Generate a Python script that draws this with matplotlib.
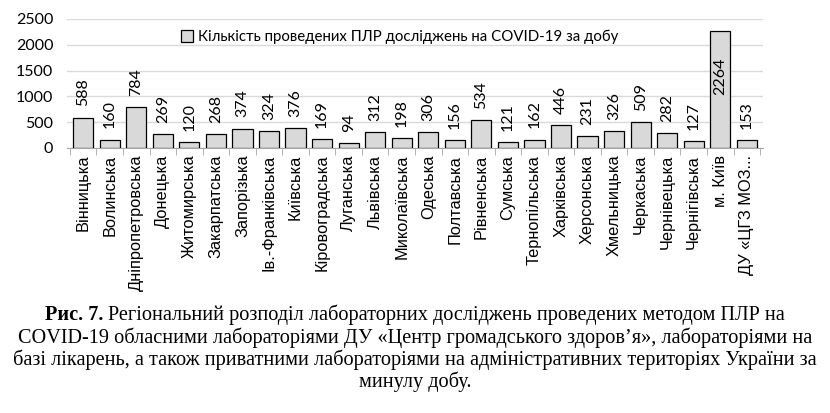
import numpy as np
import matplotlib.pyplot as plt
from matplotlib.patches import Patch

regions = ['Вінницька', 'Волинська', 'Дніпропетровська', 'Донецька', 'Житомирська',
           'Закарпатська', 'Запорізька', 'Ів.-Франківська', 'Київська', 'Кіровоградська',
           'Луганська', 'Львівська', 'Миколаївська', 'Одеська', 'Полтавська', 'Рівненська',
           'Сумська', 'Тернопільська', 'Харківська', 'Херсонська', 'Хмельницька',
           'Черкаська', 'Чернівецька', 'Чернігівська', 'м. Київ', 'ДУ «ЦГЗ МОЗ...']
tests = [588, 160, 784, 269, 120, 268, 374, 324, 376, 169, 94, 312, 198,
         306, 156, 534, 121, 162, 446, 231, 326, 509, 282, 127, 2264, 153]
yticks = [0, 500, 1000, 1500, 2000, 2500]

legend_label = 'Кількість проведених ПЛР досліджень на COVID-19 за добу'
caption_bold = 'Рис. 7.'
caption = ['Регіональний розподіл лабораторних досліджень проведених методом ПЛР на',
           'COVID-19 обласними лабораторіями ДУ «Центр громадського здоров’я», лабораторіями на',
           'базі лікарень, а також приватними лабораторіями на адміністративних територіях України за',
           'минулу добу.']

num_font = ['Lato', 'DejaVu Sans']
cat_font = ['Liberation Sans', 'DejaVu Sans']
cap_font = ['Liberation Serif', 'DejaVu Serif']

fig = plt.figure(figsize=(8.3, 4.13), dpi=100)
ax = fig.add_axes([0.081, 0.642, 0.838, 0.312])

x = np.arange(len(tests))
bars = ax.bar(x, tests, width=0.76, color='#d9d9d9', edgecolor='black', linewidth=0.9, zorder=3)

for xi, v in zip(x, tests):
    if v > 2000:
        ax.annotate(str(v), (xi, v), xytext=(0, -19), textcoords='offset points',
                    rotation=90, ha='center', va='top', fontsize=11.5, family=num_font, zorder=4)
    else:
        ax.annotate(str(v), (xi, v), xytext=(0, 8), textcoords='offset points',
                    rotation=90, ha='center', va='bottom', fontsize=11.5, family=num_font, zorder=4)

ax.set_ylim(0, 2500)
ax.set_xlim(-0.6, len(tests) - 0.4)
ax.set_yticks(yticks)
ax.set_yticklabels([str(t) for t in yticks], family=num_font, fontsize=11.5)
ax.yaxis.grid(True, color='#d9d9d9', linewidth=1, zorder=0)
ax.tick_params(axis='y', length=0, pad=10)

ax.set_xticks(x)
ax.set_xticklabels(regions, rotation=90, family=cat_font, fontsize=11.8)
ax.tick_params(axis='x', length=0, pad=5)
ax.set_xticks(np.arange(-0.5, len(tests), 1), minor=True)
ax.tick_params(axis='x', which='minor', length=5, color='#a6a6a6', direction='out')

for s in ['top', 'right', 'left']:
    ax.spines[s].set_visible(False)
ax.spines['bottom'].set_color('#a6a6a6')

handle = Patch(facecolor='#d9d9d9', edgecolor='black', linewidth=0.9)
ax.legend([handle], [legend_label], loc='upper left', bbox_to_anchor=(0.155, 0.96),
          frameon=False, prop={'family': num_font, 'size': 10.8},
          handlelength=0.8, handleheight=0.8, handletextpad=0.3, borderaxespad=0)

# caption
fig.canvas.draw()
r = fig.canvas.get_renderer()
ys = [1 - 320 / 413, 1 - 343 / 413, 1 - 365 / 413, 1 - 387 / 413]
tb = fig.text(0, ys[0], caption_bold + ' ', family=cap_font, fontsize=14.6, weight='bold', va='baseline')
tn = fig.text(0, ys[0], caption[0], family=cap_font, fontsize=14.6, va='baseline')
wb = tb.get_window_extent(r).width / fig.bbox.width
wn = tn.get_window_extent(r).width / fig.bbox.width
x0 = 0.5 - (wb + wn) / 2
tb.set_x(x0)
tn.set_x(x0 + wb)
for line, yy in zip(caption[1:], ys[1:]):
    fig.text(0.5, yy, line, family=cap_font, fontsize=14.6, ha='center', va='baseline')

fig.savefig('out.png', dpi=100)
